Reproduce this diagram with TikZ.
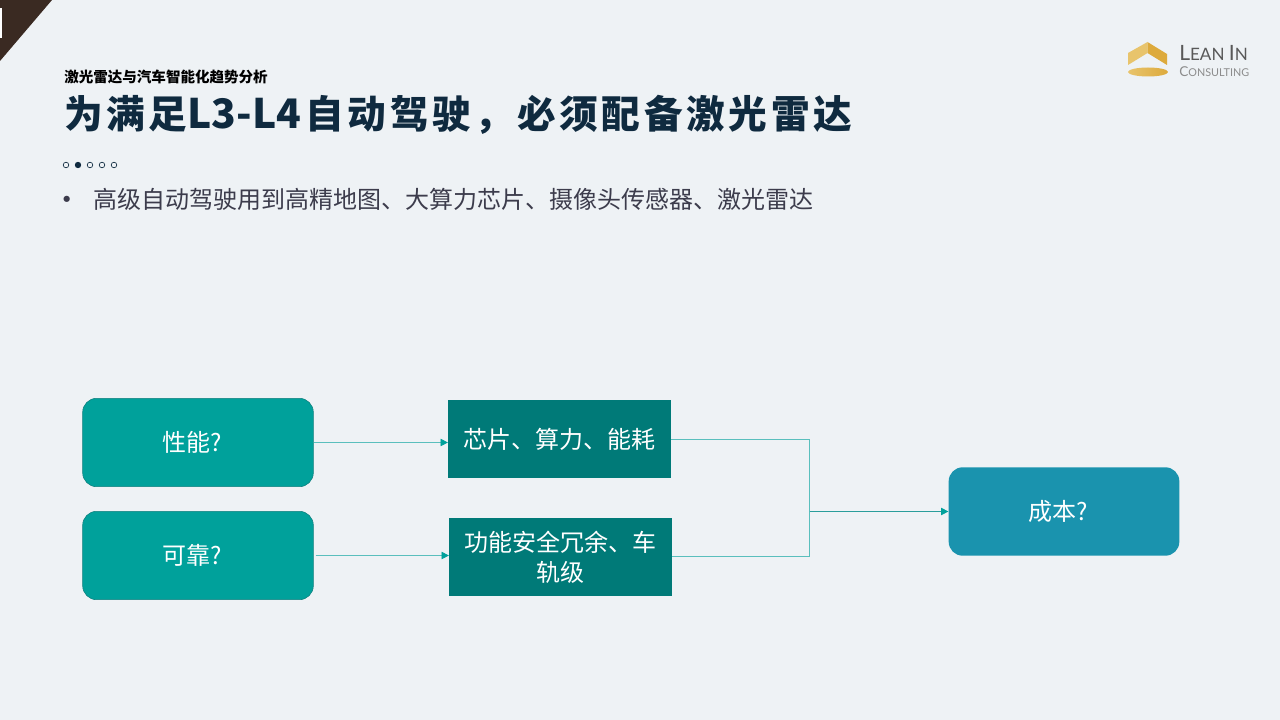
\documentclass[tikz,border=0pt]{standalone}
\usepackage{fontspec}
\usetikzlibrary{arrows.meta}
\newfontfamily\cjk{Noto Sans CJK SC}
\newfontfamily\cjktitle[LetterSpace=9.5]{Noto Sans CJK SC}
\newfontfamily\logofont{Lato}
\definecolor{slidebg}{HTML}{EEF2F5}
\definecolor{cornerbrown}{HTML}{3A2A22}
\definecolor{titleblue}{HTML}{0F2A3F}
\definecolor{bodygray}{HTML}{3C3C4C}
\definecolor{tealbox}{HTML}{00A19B}
\definecolor{tealedge}{HTML}{0E7F7D}
\definecolor{darkteal}{HTML}{007A78}
\definecolor{bluebox}{HTML}{1A93AE}
\definecolor{tealline}{HTML}{5ABFBD}
\definecolor{mergeline}{HTML}{2A9D9B}
\definecolor{goldlight}{HTML}{E8C46C}
\definecolor{golddark}{HTML}{DDAA3C}
\tikzset{
  roundbox/.style={draw=tealedge,fill=tealbox,rounded corners=10.5pt,minimum width=173pt,minimum height=66.3pt,text=white,font=\cjk\fontsize{18}{22.5}\selectfont,inner sep=0pt,align=center},
  squarebox/.style={fill=darkteal,minimum width=167pt,minimum height=58.5pt,text=white,font=\cjk\fontsize{18}{22.5}\selectfont,inner sep=0pt,align=center},
  link/.style={draw=tealline,line width=0.6pt},
  linkarrow/.style={link,-{Triangle[length=5.5pt,width=5.5pt,color=tealbox]}},
  pagedot/.style={draw=titleblue,line width=0.5pt,fill=slidebg},
}
\begin{document}
\begin{tikzpicture}[x=0.75pt,y=-0.75pt,>=stealth]
  \useasboundingbox (0,0) rectangle (1280,720);
  \fill[slidebg] (0,0) rectangle (1280,720);
  \fill[cornerbrown] (0,0) -- (52,0) -- (0,61) -- cycle;
  \fill[white] (0,8) rectangle (2,38);
  \node[anchor=west,inner sep=0pt,text=black,font=\cjk\bfseries\fontsize{10.9}{13}\selectfont] (kicker) at (64,77) {激光雷达与汽车智能化趋势分析};
  \node[anchor=west,inner sep=0pt,text=titleblue,font=\cjktitle\bfseries\fontsize{29}{32}\selectfont] (headline) at (64,115) {为满足{\cjk\bfseries\fontsize{30.5}{32}\selectfont L3-L4}\hspace{3pt}自动驾驶，必须配备激光雷达};
  \foreach \dotx in {66,90,102,114} \draw[pagedot] (\dotx,165) circle (2.8);
  \fill[titleblue] (78,165) circle (3.2);
  \node[anchor=west,inner sep=0pt,text=bodygray,font=\cjk\fontsize{22}{26}\selectfont] (bullet) at (52,203) {•};
  \node[anchor=west,inner sep=0pt,text=bodygray,font=\cjk\fontsize{18}{22}\selectfont] (bodyline) at (93.5,199) {高级自动驾驶用到高精地图、大算力芯片、摄像头传感器、激光雷达};
  \fill[goldlight] (1128,53) -- (1147.5,42) -- (1147.5,53) -- (1128,65) -- cycle;
  \fill[golddark] (1147.5,42) -- (1167,54) -- (1167,65) -- (1147.5,53) -- cycle;
  \shade[left color=goldlight,right color=golddark] (1148,72) ellipse (20 and 4.5);
  \node[anchor=west,inner sep=0pt,text=black!65,font=\logofont] (leanin) at (1179,53) {\fontsize{15.8}{18}\selectfont L\fontsize{12.8}{18}\selectfont EAN \fontsize{15.8}{18}\selectfont I\fontsize{12.8}{18}\selectfont N};
  \node[anchor=west,inner sep=0pt,text=black!45,font=\logofont] (consulting) at (1179,72) {\fontsize{10.2}{14}\selectfont C\fontsize{8.1}{14}\selectfont ONSULTING};
  \node[roundbox] (perf) at (198,442.5) {性能?\hspace*{9pt}};
  \node[roundbox] (reliab) at (198,555.5) {可靠?\hspace*{9pt}};
  \node[squarebox] (chip) at (559.5,439) {芯片、算力、能耗};
  \node[squarebox] (safety) at (560.5,557) {功能安全冗余、车\\轨级};
  \node[roundbox,draw=none,fill=bluebox] (cost) at (1064,511.5) {成本?\hspace*{9pt}};
  \coordinate (merge) at (809.5,511.5);
  \draw[linkarrow] (perf.east) -- (perf.east -| chip.west);
  \draw[linkarrow,shorten <=1.5pt] (reliab.east) -- (reliab.east -| safety.west);
  \draw[link] (chip.east) -| (merge);
  \draw[link] (safety.east |- 0,556) -| (merge);
  \draw[linkarrow,draw=mergeline] (merge) -- (cost.west);
\end{tikzpicture}
\end{document}
